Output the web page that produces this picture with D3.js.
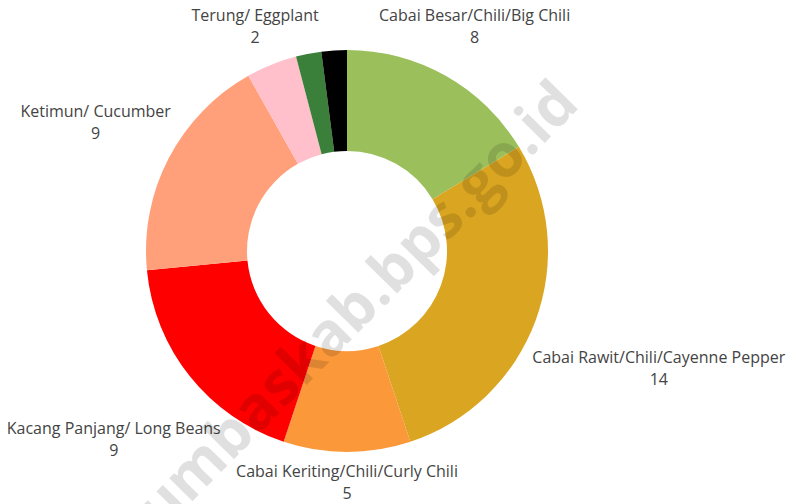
<!DOCTYPE html>
<html>
<head>
<meta charset="utf-8">
<script src="https://cdn.jsdelivr.net/npm/d3@7"></script>
<style>
  body { margin: 0; background: #fff; }
  svg { display: block; font-family: 'Open Sans', sans-serif; }
</style>
</head>
<body>
<script>
// data
const labels = ['Cabai Besar/Chili/Big Chili', 'Cabai Rawit/Chili/Cayenne Pepper', 'Cabai Keriting/Chili/Curly Chili',
  'Kacang Panjang/ Long Beans', 'Ketimun/ Cucumber', 'Terung/ Eggplant', '', ''];
const values = [8, 14, 5, 9, 9, 2, 1, 1];
const colors = ['#9bbf5b', '#daa520', '#fa983a', '#ff0000', '#ffa07a', '#ffc0cb', '#3a7f3a', '#000000'];

const W = 792, H = 504;
const cx = 347, cy = 251;
const outerR = 201, innerR = 100;
const pad = 6;

const svg = d3.select('body').append('svg').attr('width', W).attr('height', H);

const data = labels.map((l, i) => ({label: l, value: values[i], color: colors[i]}));

const pie = d3.pie().value(d => d.value).sort(null);
const arc = d3.arc().innerRadius(innerR).outerRadius(outerR);

const g = svg.append('g').attr('transform', `translate(${cx},${cy})`);

g.selectAll('path').data(pie(data)).enter()
  .append('path')
  .attr('d', arc)
  .attr('fill', d => d.data.color);

// labels outside, centre on the mid-angle ray, nearest point of the box sits just outside the ring
const lbl = g.selectAll('g.lbl').data(pie(data).filter(d => d.data.label !== '')).enter()
  .append('g').attr('class', 'lbl');

lbl.append('text')
  .attr('text-anchor', 'middle')
  .attr('fill', '#444')
  .attr('font-size', '16px')
  .each(function(d) {
    const t = d3.select(this);
    t.append('tspan').attr('x', 0).attr('y', 0).text(d.data.label);
    t.append('tspan').attr('x', 0).attr('y', 22).text(d.data.value);
  });

lbl.each(function(d) {
  const node = d3.select(this);
  const bb = this.getBBox();
  const mid = (d.startAngle + d.endAngle) / 2;
  const sx = Math.sin(mid), sy = -Math.cos(mid);
  const w = bb.width / 2, h = bb.height / 2;
  // distance from ring centre to nearest point of the box centred at (d*sx, d*sy)
  const dist = dd => {
    const px = dd * sx, py = dd * sy;
    const nx = Math.max(px - w, Math.min(0, px + w));
    const ny = Math.max(py - h, Math.min(0, py + h));
    return Math.hypot(nx, ny);
  };
  let lo = 0, hi = 600;
  for (let k = 0; k < 60; k++) {
    const m = (lo + hi) / 2;
    if (dist(m) < outerR + pad) lo = m; else hi = m;
  }
  const bx = hi * sx, by = hi * sy;
  const boxCy = bb.y + bb.height / 2;
  node.attr('transform', `translate(${bx},${by - boxCy + 2})`);
});

// watermark
svg.append('text')
  .attr('transform', 'translate(581,106) rotate(-45.5)')
  .attr('text-anchor', 'end')
  .attr('font-size', '60px')
  .attr('font-weight', 'bold')
  .attr('fill', '#000')
  .attr('fill-opacity', 0.12)
  .text('humbaskab.bps.go.id');
</script>
</body>
</html>
